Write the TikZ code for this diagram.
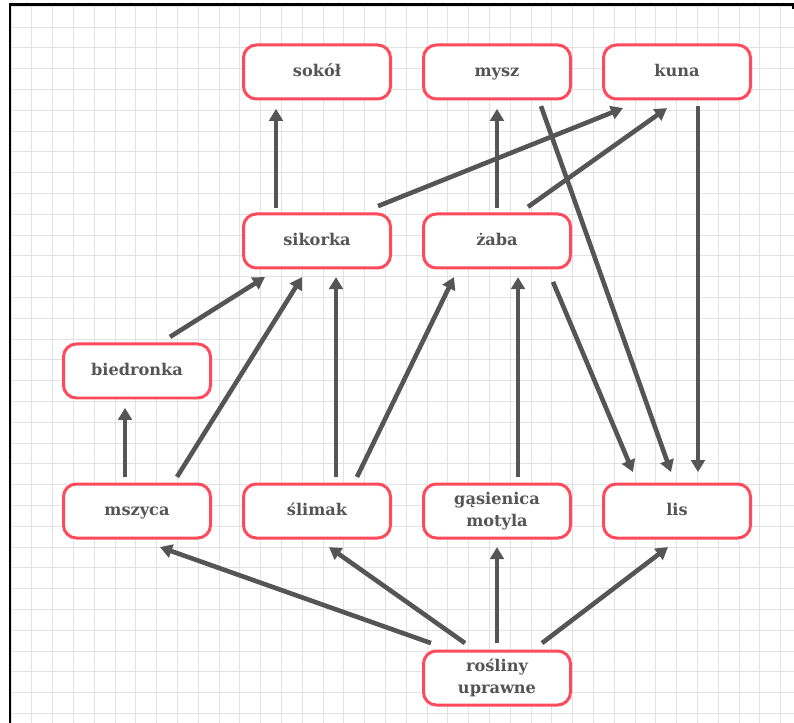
\documentclass[tikz,border=0pt]{standalone}
\usepackage{fontspec}
\setmainfont{DejaVu Serif}
\usetikzlibrary{positioning, arrows.meta}

\definecolor{boxred}{HTML}{FF4A5C}
\definecolor{linkgray}{HTML}{555555}
\definecolor{textgray}{HTML}{555555}
\definecolor{gridgray}{HTML}{E2E2E2}

\begin{document}
\begin{tikzpicture}[
            node distance=0.75cm,
            species/.style={rectangle, draw=boxred, fill=white, line width=0.075cm, rounded corners=0.32cm, minimum width=3.675cm, minimum height=1.35cm, align=center, font=\fontsize{11.5}{15.5}\selectfont\bfseries, text=textgray},
            oneline/.style={species, text height=1.6ex, text depth=0.45ex},
            link/.style={-{Triangle[length=0.3cm, width=0.34cm]}, line width=0.115cm, linkgray},
            gridline/.style={gridgray, line width=0.7pt},
            frame/.style={black, line width=0.07cm}
        ]
            \useasboundingbox (0,0) rectangle (19.85,-18.075);

            % --- Background Grid ---
            \foreach \k in {0,...,37} \draw[gridline] (0.275+0.52*\k,-0.12) -- (0.275+0.52*\k,-18.075);
            \foreach \k in {0,...,34} \draw[gridline] (0.25,-0.1575-0.52*\k) -- (19.85,-0.1575-0.52*\k);
            \draw[frame] (0.25,-18.075) -- (0.25,-0.12) -- (19.825,-0.12) -- (19.825,-0.22);

            % --- Node Placement ---
            \node[oneline] (sikorka) at (7.925,-6.025) {sikorka};
            \node[oneline, right=of sikorka] (zaba) {żaba};
            \node[oneline, above=2.8cm of sikorka] (sokol) {sokół};
            \node[oneline, right=of sokol] (mysz) {mysz};
            \node[oneline, right=of mysz] (kuna) {kuna};
            \node[oneline, below=5.325cm of sikorka] (slimak) {ślimak};
            \node[oneline, left=of slimak] (mszyca) {mszyca};
            \node[species, right=of slimak] (gasienica) {gąsienica\\motyla};
            \node[oneline, right=of gasienica] (lis) {lis};
            \node[oneline, above=2.075cm of mszyca] (biedronka) {biedronka};
            \node[species, below=2.75cm of gasienica] (rosliny) {rośliny\\uprawne};

            % --- Links ---
            \draw[link] ([xshift=-1.025cm, yshift=0.11cm]sikorka.north) -- ([xshift=-1.025cm, yshift=-0.21cm]sokol.south);
            \draw[link] ([yshift=0.11cm]zaba.north) -- ([yshift=-0.21cm]mysz.south);
            \draw[link] ([xshift=1.525cm, yshift=0.16cm]sikorka.north) -- ([xshift=-1.35cm, yshift=-0.19cm]kuna.south);
            \draw[link] ([xshift=0.775cm, yshift=0.14cm]zaba.north) -- ([xshift=-0.25cm, yshift=-0.19cm]kuna.south);
            \draw[link] ([xshift=1.1cm, yshift=-0.14cm]mysz.south) -- ([xshift=-0.15cm, yshift=0.26cm]lis.north);
            \draw[link] ([xshift=1.4cm, yshift=-0.31cm]zaba.south) -- ([xshift=-1.1cm, yshift=0.26cm]lis.north);
            \draw[link] ([xshift=0.525cm, yshift=-0.14cm]kuna.south) -- ([xshift=0.525cm, yshift=0.26cm]lis.north);
            \draw[link] ([xshift=0.825cm, yshift=0.14cm]biedronka.north) -- ([xshift=-1.3cm, yshift=-0.19cm]sikorka.south);
            \draw[link] ([xshift=-0.3cm, yshift=0.14cm]mszyca.north) -- ([xshift=-0.3cm, yshift=-0.21cm]biedronka.south);
            \draw[link] ([xshift=1cm, yshift=0.14cm]mszyca.north) -- ([xshift=-0.375cm, yshift=-0.19cm]sikorka.south);
            \draw[link] ([xshift=0.475cm, yshift=0.14cm]slimak.north) -- ([xshift=0.475cm, yshift=-0.19cm]sikorka.south);
            \draw[link] ([xshift=1cm, yshift=0.14cm]slimak.north) -- ([xshift=-1.075cm, yshift=-0.19cm]zaba.south);
            \draw[link] ([xshift=0.525cm, yshift=0.14cm]gasienica.north) -- ([xshift=0.525cm, yshift=-0.19cm]zaba.south);
            \draw[link] ([xshift=-1.65cm, yshift=0.16cm]rosliny.north) -- ([xshift=0.575cm, yshift=-0.19cm]mszyca.south);
            \draw[link] ([xshift=-0.8cm, yshift=0.16cm]rosliny.north) -- ([xshift=0.3cm, yshift=-0.19cm]slimak.south);
            \draw[link] ([yshift=0.16cm]rosliny.north) -- ([yshift=-0.19cm]gasienica.south);
            \draw[link] ([xshift=1.125cm, yshift=0.16cm]rosliny.north) -- ([xshift=-0.225cm, yshift=-0.19cm]lis.south);
        \end{tikzpicture}
\end{document}
